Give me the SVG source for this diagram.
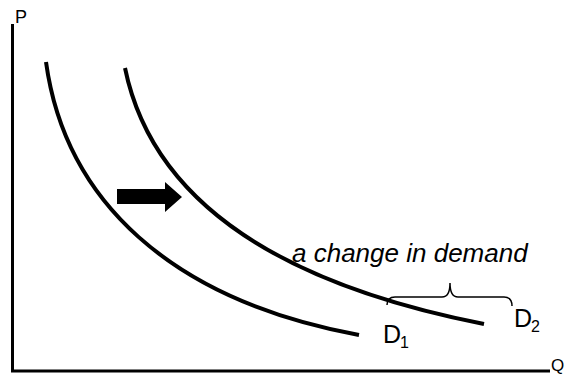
<svg xmlns="http://www.w3.org/2000/svg" width="566" height="375" viewBox="0 0 566 375">
<style>
.ax{fill:none;stroke:#000;stroke-width:3}
.curve{fill:none;stroke:#000;stroke-width:4}
.brace{fill:none;stroke:#000;stroke-width:1.5}
text{font-family:"Liberation Sans",Arial,sans-serif;fill:#000}
.lbl{font-size:25px}
.sub{font-size:16px}
.ax-lbl{font-size:18px}
.q-lbl{font-size:17px}
.note{font-size:26px;font-style:italic}
</style>
<rect width="566" height="375" fill="#fff"/>
<g id="axes">
<path class="ax" d="M12.5,24 L12.5,371 L550,371"/>
<text class="ax-lbl" x="15" y="23">P</text>
<text class="q-lbl" x="551" y="371">Q</text>
</g>
<g id="connectors">
<path id="D1-curve" class="curve" d="M46,62 C65,200 170,300 359,335"/>
<path id="D2-curve" class="curve" d="M125,68 C150,190 260,280 484,324"/>
<polygon id="shift-arrow" points="117,189 165,189 165,182 182,197 165,212 165,204 117,204" fill="#000"/>
<path id="brace" class="brace" d="M387,305 Q387,297 395,297 L442,297 Q450,297 450,283 Q450,297 458,297 L504,297 Q512,297 512,306"/>
</g>
<g id="D1">
<text class="lbl" x="383" y="343">D</text>
<text class="sub" x="400" y="348">1</text>
</g>
<g id="D2">
<text class="lbl" x="514" y="327">D</text>
<text class="sub" x="531" y="332">2</text>
</g>
<g id="note">
<text class="note" x="292" y="262">a change in demand</text>
</g>
</svg>
